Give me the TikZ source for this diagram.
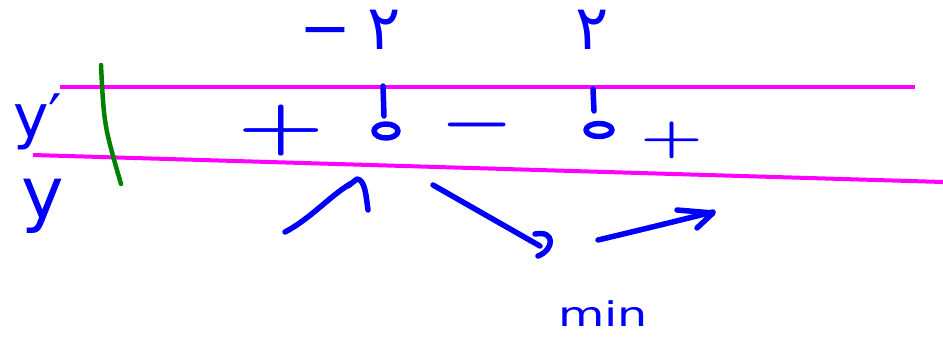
\documentclass[tikz,border=0pt]{standalone}
\usepackage{fontspec}
\setmainfont{Liberation Sans}
\newfontfamily\arabicfont[Script=Arabic]{DejaVu Sans}
\newfontfamily\dvs{DejaVu Sans}
\newfontfamily\lmr{Latin Modern Roman}
\definecolor{pen}{RGB}{0,0,250}
\definecolor{mag}{RGB}{255,0,255}
\definecolor{grn}{RGB}{0,128,0}
\begin{document}
\begin{tikzpicture}[x=1pt,y=-1pt,
  ink/.style={pen,line width=5.5pt,line cap=round,line join=round},
  lbl/.style={text=pen,inner sep=0pt},
  sgn/.style={lbl,font=\lmr\bfseries\fontsize{#1}{#1}\selectfont},
  rowline/.style={mag,line width=4pt}]
\useasboundingbox (0,0) rectangle (943,337);
% row lines
\draw[rowline] (60,87) -- (915,87);
\draw[rowline] (33,155) -- (943,182);
% green separator
\draw[grn,line width=4.5pt,line cap=round] (101,65) .. controls (104,125) .. (121,184);
% row labels
\node[lbl,font=\dvs\fontsize{60}{60}\selectfont] (yp) at (38,122) {y′};
\node[lbl,font=\dvs\fontsize{72}{72}\selectfont] (y) at (43,206) {y};
% roots
\node[lbl,font=\arabicfont\fontsize{62}{62}\selectfont] (r1) at (350,30) {−\hspace{16pt}۲};
\node[lbl,font=\arabicfont\fontsize{62}{62}\selectfont] (r2) at (592,30) {۲};
% root ticks and zeros
\draw[ink] (383,86) -- (384,116);
\draw[ink] (386,131) ellipse [x radius=12, y radius=7];
\draw[ink] (593,89) -- (594,111);
\draw[ink] (599,130) ellipse [x radius=13, y radius=6.5];
% signs
\node[sgn=100] (s1) at (281,131) {\scalebox{1}[0.68]{+}};
\node[sgn=70] (s2) at (477,133) {\scalebox{1.1}[1]{−}};
\node[sgn=72] (s3) at (672,140) {\scalebox{1}[0.68]{+}};
% variation arrows
\draw[ink] (285,232) .. controls (310,219) and (330,196) .. (350,184);
\draw[ink] (348,186) -- (357,179) .. controls (365,180) and (366,195) .. (368,210);
\draw[ink] (433,185) -- (540,246);
\draw[ink] (535,234) .. controls (556,230) and (554,250) .. (538,256);
\draw[ink] (598,240) .. controls (640,230) .. (713,212);
\draw[ink] (677,210) -- (713,213) -- (697,228);
% min label
\node[lbl,font=\dvs\fontsize{34}{34}\selectfont] (mn) at (603,314) {\scalebox{1.4}[1]{min}};
\end{tikzpicture}
\end{document}
